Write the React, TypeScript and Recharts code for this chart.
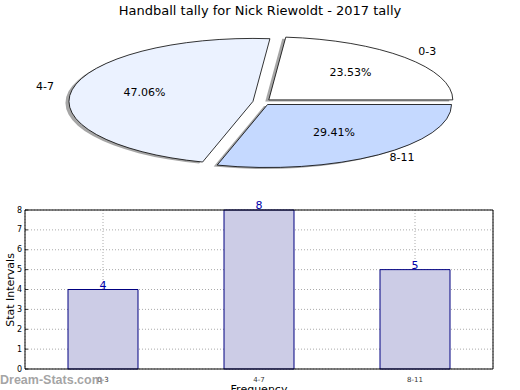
import React from 'react';
import { PieChart, Pie, BarChart, Bar, XAxis, YAxis, CartesianGrid, LabelList } from 'recharts';

const categories = ['0-3', '4-7', '8-11'];
const counts = [4, 8, 5];
const sliceColors = ['#FFFFFF', '#EBF2FF', '#C5D9FF'];
const yTicks = [0, 1, 2, 3, 4, 5, 6, 7, 8];

const data = categories.map((name, i) => ({ name, value: counts[i] }));

const FONT = '"DejaVu Sans", sans-serif';
const RX = 184;
const RY = 63;
const EXPLODE = 0.05;
const RAD = Math.PI / 180;

// point on the squashed pie, angle in degrees (counter-clockwise from east)
const ellipsePoint = (cx: number, cy: number, scale: number, angle: number) => [
  cx + RX * scale * Math.cos(angle * RAD),
  cy - RY * scale * Math.sin(angle * RAD),
];

const slicePath = (cx: number, cy: number, start: number, end: number) => {
  const [x0, y0] = ellipsePoint(cx, cy, 1, start);
  const [x1, y1] = ellipsePoint(cx, cy, 1, end);
  const large = end - start > 180 ? 1 : 0;
  return `M${cx},${cy} L${x0},${y0} A${RX},${RY} 0 ${large} 0 ${x1},${y1} Z`;
};

const renderShadow = (props: any) => {
  const { cx, cy, startAngle, endAngle } = props;
  const mid = (startAngle + endAngle) / 2;
  const [ox, oy] = ellipsePoint(cx, cy, EXPLODE, mid);
  return (
    <path d={slicePath(ox - 3.5, oy + 1.5, startAngle, endAngle)} fill="#4d4d4d" fillOpacity={0.5} stroke="none" />
  );
};

const renderSlice = (props: any) => {
  const { cx, cy, startAngle, endAngle, index, percent, name } = props;
  const mid = (startAngle + endAngle) / 2;
  const [ox, oy] = ellipsePoint(cx, cy, EXPLODE, mid);
  const [lx, ly] = ellipsePoint(ox, oy, 1.1, mid);
  const [px, py] = ellipsePoint(ox, oy, 0.6, mid);
  const left = Math.cos(mid * RAD) < 0;
  return (
    <g>
      <path d={slicePath(ox, oy, startAngle, endAngle)} fill={sliceColors[index]} stroke="#000" strokeWidth={0.8} />
      <text x={lx} y={ly - 2} textAnchor={left ? 'end' : 'start'} dominantBaseline="central" fontSize={11} fontFamily={FONT} fill="#000">
        {name}
      </text>
      <text x={px} y={py - 2} textAnchor="middle" dominantBaseline="central" fontSize={11} fontFamily={FONT} fill="#000">
        {(percent * 100).toFixed(2)}%
      </text>
    </g>
  );
};

const LeftTick = ({ x, y, payload }: any) => (
  <g>
    <text x={x - 3} y={y} textAnchor="end" dominantBaseline="central" fontSize={8} fontFamily={FONT} fill="#000">
      {payload.value}
    </text>
    <line x1={x} x2={x + 3} y1={y} y2={y} stroke="#000" strokeWidth={0.8} />
  </g>
);

const RightTick = ({ x, y }: any) => <line x1={x - 3} x2={x} y1={y} y2={y} stroke="#000" strokeWidth={0.8} />;

export default function App() {
  return (
    <div style={{ position: 'relative', width: 520, height: 390, background: '#fff', overflow: 'hidden' }}>
      <style>{'body{margin:0}'}</style>

      <div style={{ position: 'absolute', left: 0, top: 0 }}>
        <BarChart width={520} height={390} data={data} margin={{ top: 209, right: 26, bottom: 0, left: 0 }}>
          <CartesianGrid stroke="#aaaaaa" strokeDasharray="1 2" />
          <XAxis
            dataKey="name"
            height={21}
            interval={0}
            tickLine={false}
            axisLine={{ stroke: '#000' }}
            tick={{ fontSize: 7, fill: '#333', fontFamily: FONT }}
          />
          <XAxis xAxisId="top" orientation="top" dataKey="name" height={1} tick={false} tickLine={false} axisLine={{ stroke: '#000' }} />
          <YAxis
            width={25}
            domain={[0, 8]}
            ticks={yTicks}
            interval={0}
            tickSize={0}
            tickMargin={0}
            tickLine={false}
            axisLine={{ stroke: '#000' }}
            tick={<LeftTick />}
          />
          <YAxis
            yAxisId="right"
            orientation="right"
            width={1}
            domain={[0, 8]}
            ticks={yTicks}
            interval={0}
            tickSize={0}
            tickMargin={0}
            tickLine={false}
            axisLine={{ stroke: '#000' }}
            tick={<RightTick />}
          />
          <Bar dataKey="value" fill="#CCCCE6" stroke="#000080" strokeWidth={1} barSize={70} isAnimationActive={false}>
            <LabelList dataKey="value" position="top" offset={1} fill="#0000AA" fontSize={11} fontFamily={FONT} />
          </Bar>
        </BarChart>
      </div>

      <div style={{ position: 'absolute', left: 0, top: 0 }}>
        <PieChart width={520} height={200}>
          <Pie
            data={data}
            dataKey="value"
            nameKey="name"
            cx={257}
            cy={97}
            outerRadius={RX}
            startAngle={0}
            endAngle={360}
            fill="none"
            stroke="none"
            label={renderShadow}
            labelLine={false}
            isAnimationActive={false}
          />
          <Pie
            data={data}
            dataKey="value"
            nameKey="name"
            cx={257}
            cy={97}
            outerRadius={RX}
            startAngle={0}
            endAngle={360}
            fill="none"
            stroke="none"
            label={renderSlice}
            labelLine={false}
            isAnimationActive={false}
          />
        </PieChart>
      </div>

      <svg width={520} height={390} style={{ position: 'absolute', left: 0, top: 0, pointerEvents: 'none' }}>
        <text x={260} y={10} textAnchor="middle" dominantBaseline="central" fontSize={13} fontFamily={FONT} fill="#000">
          Handball tally for Nick Riewoldt - 2017 tally
        </text>
        <text
          x={10}
          y={290}
          transform="rotate(-90 10 290)"
          textAnchor="middle"
          dominantBaseline="central"
          fontSize={11}
          fontFamily={FONT}
          fill="#000"
        >
          Stat Intervals
        </text>
        <text x={259} y={389} textAnchor="middle" dominantBaseline="central" fontSize={11} fontFamily={FONT} fill="#000">
          Frequency
        </text>
        <text x={0} y={380} dominantBaseline="central" fontSize={12.5} fontWeight="bold" fontFamily='"Liberation Sans", sans-serif' fill="#999" fillOpacity={0.9}>
          Dream-Stats.com
        </text>
      </svg>
    </div>
  );
}
